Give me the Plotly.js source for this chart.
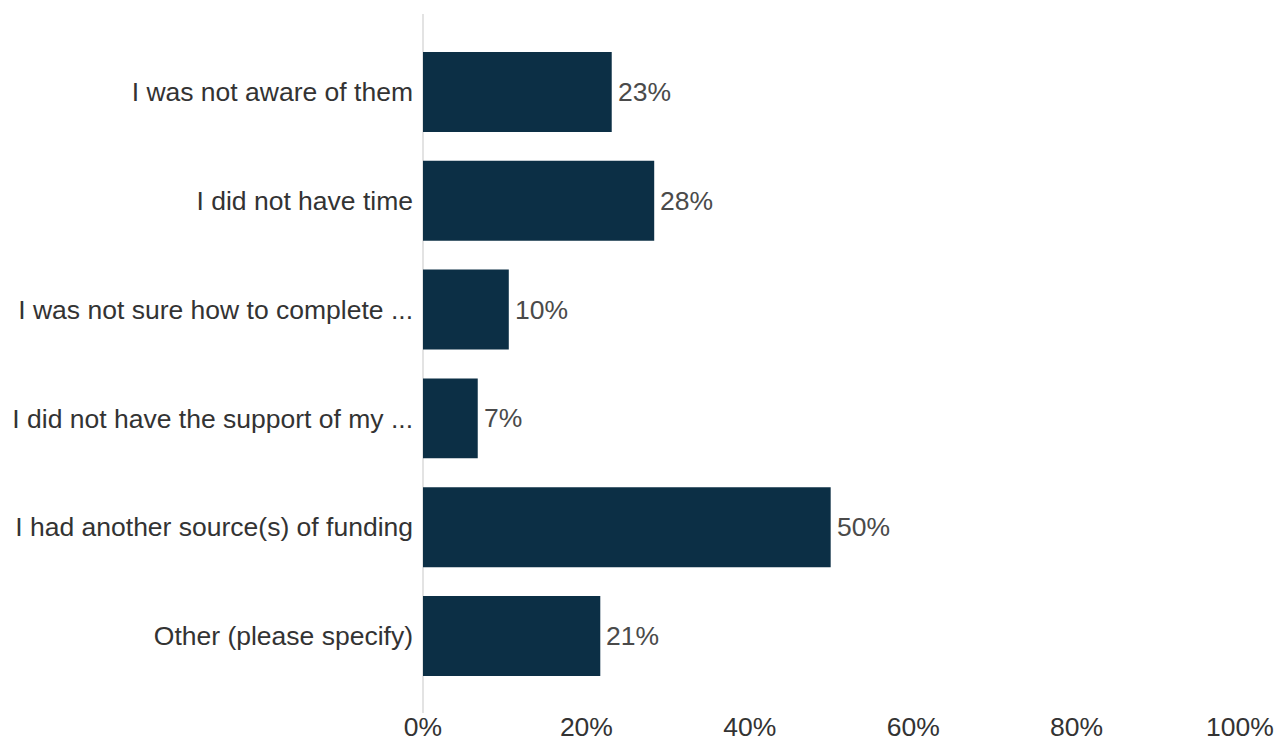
<!DOCTYPE html>
<html>
<head>
<meta charset="utf-8">
<script src="https://cdn.plot.ly/plotly-3.0.1.min.js"></script>
<style>html,body{margin:0;padding:0;background:#fff;}#chart{width:1281px;height:742px;}</style>
</head>
<body>
<div id="chart"></div>
<script>
const categories = [
  "I was not aware of them",
  "I did not have time",
  "I was not sure how to complete ...",
  "I did not have the support of my ...",
  "I had another source(s) of funding",
  "Other (please specify)"
];
const values = [23.1, 28.3, 10.5, 6.7, 49.9, 21.7];
const valueLabels = ["23%", "28%", "10%", "7%", "50%", "21%"];
const tickValues = [0, 20, 40, 60, 80, 100];
const tickLabels = ["0%", "20%", "40%", "60%", "80%", "100%"];

const FONT = "Liberation Sans, Arial, sans-serif";
const FS = 26.5;

const trace = {
  type: "bar",
  orientation: "h",
  y: categories,
  x: values,
  marker: {color: "#0c2f45"},
  hoverinfo: "none"
};

const annotations = categories.map((c, i) => ({
  x: values[i],
  y: c,
  xref: "x",
  yref: "y",
  text: valueLabels[i],
  showarrow: false,
  xanchor: "left",
  yanchor: "middle",
  xshift: 4,
  font: {family: FONT, size: FS, color: "#4a4a4a"}
}));

const layout = {
  width: 1281,
  height: 742,
  margin: {l: 423, r: 40.5, t: 14, b: 29},
  paper_bgcolor: "#ffffff",
  plot_bgcolor: "#ffffff",
  showlegend: false,
  bargap: 0.265,
  font: {family: FONT, size: FS, color: "#333333"},
  annotations: annotations,
  xaxis: {
    range: [0, 100],
    tickvals: tickValues,
    ticktext: tickLabels,
    showgrid: false,
    zeroline: true,
    zerolinecolor: "#e3e3e3",
    zerolinewidth: 2,
    showline: false,
    ticks: "",
    ticklabelstandoff: -5,
    automargin: false,
    tickfont: {size: FS, color: "#333333"}
  },
  yaxis: {
    type: "category",
    range: [5.708, -0.717],
    showgrid: false,
    zeroline: false,
    showline: false,
    ticks: "",
    ticklabelstandoff: 9,
    automargin: false,
    tickfont: {size: FS, color: "#333333"}
  }
};

Plotly.newPlot("chart", [trace], layout, {displayModeBar: false, staticPlot: true});
</script>
</body>
</html>
